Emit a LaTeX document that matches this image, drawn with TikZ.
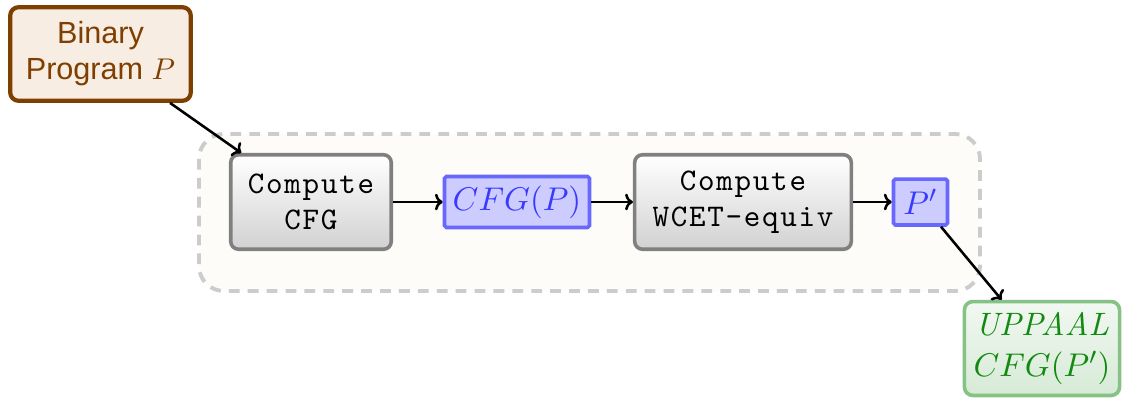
\documentclass[tikz,border=0pt]{standalone}
\usepackage{fontspec}
\usetikzlibrary{arrows.meta}
\setsansfont{Liberation Sans}
\newfontfamily\codefont[LetterSpace=5.5]{Latin Modern Mono}
\definecolor{brownline}{HTML}{7F3F00}
\definecolor{brownfill}{HTML}{F8EDE3}
\definecolor{grayline}{HTML}{808080}
\definecolor{blueline}{HTML}{6868FF}
\definecolor{bluefill}{HTML}{CCCCFF}
\definecolor{bluetext}{HTML}{3A3AFF}
\definecolor{greenline}{HTML}{86C286}
\definecolor{greentop}{HTML}{F2F8F2}
\definecolor{greenbot}{HTML}{D6EAD6}
\definecolor{greentext}{HTML}{128A12}
\definecolor{dashgray}{HTML}{CCCCCC}
\definecolor{groupfill}{HTML}{FDFCF8}
\tikzset{
  inputbox/.style={draw=brownline, fill=brownfill, line width=1.4pt, rounded corners=2.8pt,
    text=brownline, font=\sffamily\fontsize{10.2}{12}\selectfont, align=center, inner sep=0pt,
    minimum width=60.2pt, minimum height=31.2pt},
  procbox/.style={draw=grayline, line width=1.2pt, rounded corners=2.6pt,
    top color=white, bottom color=black!18, font=\codefont\fontsize{10.5}{12}\selectfont,
    align=center, inner sep=0pt, minimum height=31.5pt},
  databox/.style={draw=blueline, fill=bluefill, line width=1.2pt, rounded corners=0.6pt,
    text=bluetext, font=\fontsize{10.8}{12.4}\selectfont, inner sep=0pt, minimum height=17pt},
  outbox/.style={draw=greenline, line width=1.2pt, rounded corners=2.8pt,
    top color=greentop, bottom color=greenbot, text=greentext,
    font=\fontsize{10.8}{13.4}\selectfont, align=center, inner sep=0pt,
    minimum width=51.7pt, minimum height=31.3pt},
  groupbox/.style={draw=dashgray, fill=groupfill, line width=1.3pt, rounded corners=8.3pt,
    dash pattern=on 3.6pt off 2.7pt},
  flow/.style={-{To[length=2.6pt,width=5.6pt]}, line width=0.85pt, black}
}
\begin{document}
\begin{tikzpicture}[x=0.33333pt, y=-0.33333pt]
\useasboundingbox (0,0) rectangle (1126,398);
\draw[groupbox] (199,134) rectangle (980,291);
\node[inputbox] (bin) at (100.5,54) {Binary\\Program $P$};
\node[procbox, minimum width=53.5pt] (ccfg) at (311,202) {Compute\\CFG};
\node[databox, minimum width=48.3pt] (cfgp) at (517,202) {$CFG(P)$};
\node[procbox, minimum width=72.2pt] (wcet) at (743,202) {Compute\\WCET-equiv};
\node[databox, minimum width=18pt, minimum height=15.3pt] (pp) at (920.5,202) {$P'$};
\node[outbox] (upp) at (1042,348.5) {\textit{UPPAAL}\\$CFG(P')$};
\draw[flow] (bin) -- (ccfg);
\draw[flow] (ccfg.east) -- (cfgp.west);
\draw[flow] (cfgp.east) -- (wcet.west);
\draw[flow] (wcet.east) -- (pp.west);
\draw[flow] (pp) -- (upp);
\end{tikzpicture}
\end{document}
